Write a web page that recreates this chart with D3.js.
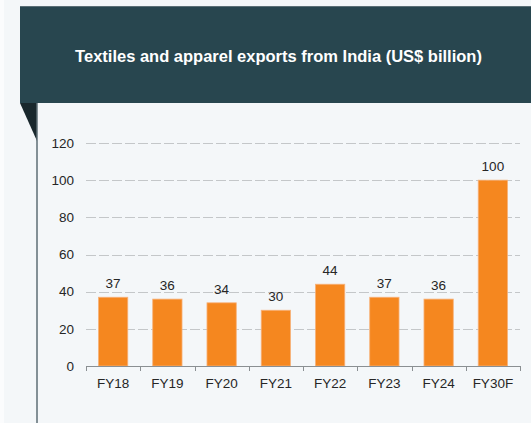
<!DOCTYPE html>
<html>
<head>
<meta charset="utf-8">
<script src="https://cdn.jsdelivr.net/npm/d3@7"></script>
<style>
  html, body { margin: 0; padding: 0; background: #f4f7f9; }
  svg { display: block; }
  text { font-family: "Liberation Sans", Arial, sans-serif; }
</style>
</head>
<body>
<svg id="chart" width="531" height="423"></svg>
<script>
const title = "Textiles and apparel exports from India (US$ billion)";
const categories = ["FY18", "FY19", "FY20", "FY21", "FY22", "FY23", "FY24", "FY30F"];
const values = [37, 36, 34, 30, 44, 37, 36, 100];
const yTicks = [0, 20, 40, 60, 80, 100, 120];

const svg = d3.select("#chart");
const W = 531, H = 423;

// background
svg.append("rect").attr("x", 0).attr("y", 0).attr("width", W).attr("height", H).attr("fill", "#f4f7f9");
svg.append("rect").attr("x", 0).attr("y", 0).attr("width", 4).attr("height", H).attr("fill", "#fbfcfd");

// header banner
svg.append("rect").attr("x", 20).attr("y", 6).attr("width", W - 20).attr("height", 97).attr("fill", "#28464f");
svg.append("line").attr("x1", 20).attr("x2", W).attr("y1", 6.5).attr("y2", 6.5).attr("stroke", "#5b6f76").attr("stroke-width", 1);
// fold triangle
svg.append("path").attr("d", "M20,103 L37,103 L37,141 Z").attr("fill", "#19282d");
// vertical line
svg.append("line").attr("x1", 37).attr("x2", 37).attr("y1", 103).attr("y2", H).attr("stroke", "#5e6e74").attr("stroke-width", 1.5);

svg.append("text")
  .attr("x", 278.5).attr("y", 62)
  .attr("text-anchor", "middle")
  .attr("fill", "#ffffff")
  .attr("font-weight", "bold")
  .attr("font-size", 16.5)
  .text(title);

const x = d3.scaleBand().domain(categories).range([86, 520]).paddingInner(0.46).paddingOuter(0.23);
const y = d3.scaleLinear().domain([0, 120]).range([366, 143]);

// gridlines
svg.append("g").selectAll("line").data(yTicks.filter(d => d > 0)).join("line")
  .attr("x1", 86).attr("x2", 520)
  .attr("y1", d => Math.round(y(d)) + 0.5).attr("y2", d => Math.round(y(d)) + 0.5)
  .attr("stroke", "#c4c7c9").attr("stroke-width", 1)
  .attr("stroke-dasharray", "10,3");

// y axis labels
const yAxis = d3.axisLeft(y).tickValues(yTicks).tickSize(0).tickPadding(0);
const gy = svg.append("g").attr("transform", "translate(74,0)").call(yAxis);
gy.select(".domain").remove();
gy.selectAll("text").attr("font-size", 13.5).attr("fill", "#262626").attr("font-family", "Liberation Sans, Arial, sans-serif");

// bars
svg.append("g").selectAll("rect").data(values).join("rect")
  .attr("x", (d, i) => x(categories[i]))
  .attr("y", d => y(d))
  .attr("width", x.bandwidth())
  .attr("height", d => y(0) - y(d))
  .attr("fill", "#f5871f")
  .attr("stroke", "#f7b27a").attr("stroke-width", 0.8);

// value labels
svg.append("g").selectAll("text").data(values).join("text")
  .attr("x", (d, i) => x(categories[i]) + x.bandwidth() / 2)
  .attr("y", d => y(d) - 9)
  .attr("text-anchor", "middle")
  .attr("font-size", 13.5)
  .attr("fill", "#262626")
  .text(d => d);

// x axis
const xEdges = d3.scaleLinear().domain([0, categories.length]).range([86, 520]);
const gx = svg.append("g");
gx.append("line").attr("x1", 86).attr("x2", 520).attr("y1", 366.5).attr("y2", 366.5).attr("stroke", "#8a8f92").attr("stroke-width", 1);
gx.selectAll("line.tick").data(d3.range(categories.length + 1)).join("line")
  .attr("class", "tick")
  .attr("x1", d => Math.round(xEdges(d)) + 0.5).attr("x2", d => Math.round(xEdges(d)) + 0.5)
  .attr("y1", 366).attr("y2", 371)
  .attr("stroke", "#8a8f92").attr("stroke-width", 1);
const xAxis = d3.axisBottom(x).tickSize(0).tickPadding(0);
const gxl = svg.append("g").attr("transform", "translate(0,378)").call(xAxis);
gxl.select(".domain").remove();
gxl.selectAll("text").attr("font-size", 13.5).attr("fill", "#262626").attr("font-family", "Liberation Sans, Arial, sans-serif");
</script>
</body>
</html>
